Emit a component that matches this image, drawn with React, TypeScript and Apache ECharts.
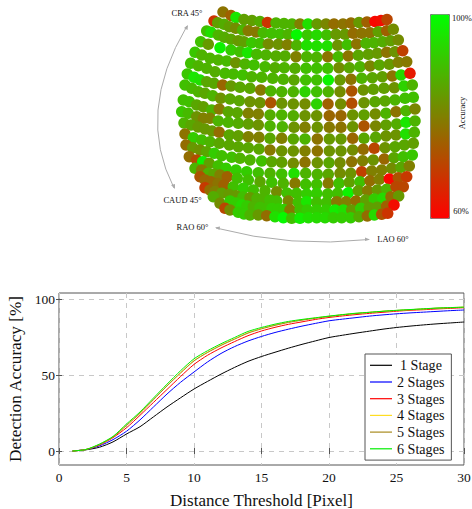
import React, { useEffect, useRef } from "react";
import * as echarts from "echarts";

// Sphere map: each row lists [projected x, projected y, accuracy %]
const row01 = [[223,12,78],[231,15.5,75],[236,17.5,96],[244,19.5,85],[252,20.5,85],[260,21.5,87],[267.5,22.5,68],[276,23,88],[284,23.5,88],[292,24,88],[300,24,80],[308,24,95],[317,24,84],[326,24,81],[334,24,77],[343,24,78],[351,23,77],[359,22.5,84],[367,22,75],[375,21.5,61],[381,20.5,62],[387,19.5,71]];
const row02 = [[214,21,68],[217.7,22.7,85],[224,24.3,87],[229.3,26.7,85],[235.7,28.3,82],[242.7,30,88],[248.3,30.7,79],[256,32,79],[263.3,32.7,89],[271.7,33.3,90],[280,34,90],[288.3,34.3,88],[296.7,34.7,99],[307.3,35,91],[316.7,35,94],[326.7,35,90],[336,34.3,84],[345,34.3,84],[353.3,33.3,77],[361.7,33.3,78],[370,32.7,78],[378.3,31.7,85],[386.7,30.7,75],[393.3,29.3,82]];
const row03 = [[206.7,31,90],[211,32.3,95],[218.3,35,88],[224.3,37.3,87],[231,39.3,86],[238.3,40.7,84],[244,41.7,85],[251.7,42.7,91],[260,43.3,90],[268.3,44,82],[278.3,44.3,83],[287.3,44.7,80],[296.7,45.3,88],[306.7,45.3,95],[316.7,46,95],[327.3,46,95],[337.7,45.3,83],[347.3,44.7,90],[356.7,44,78],[366,43.3,88],[374,42.7,88],[382.7,41.7,87],[390.7,40.7,85],[398.3,40,82]];
const row04 = [[200.7,41.7,90],[208.3,44.3,84],[220,47.7,98],[231,50,92],[240,51.7,90],[247.7,52.7,96],[256.7,54.3,89],[266,55,88],[276,56,87],[285,56,87],[296,56.7,80],[306.7,56.7,88],[316.7,57.3,88],[327.7,56.7,78],[338.3,56.7,89],[348.3,56,78],[358.3,55.3,86],[368.3,54.3,85],[377.3,53.3,84],[386.7,52.3,78],[395,51.7,83],[402.7,50.7,70]];
const row05 = [[195,52.3,91],[201.7,55,88],[210,58.3,88],[218.3,60,88],[226.7,61,89],[235.7,62.7,83],[245,64,88],[254,65,90],[265,66.7,89],[275,67.7,87],[284.3,67.7,88],[295,68.3,87],[306,68.3,90],[316.7,68.3,90],[327.7,68.3,90],[339,67.7,82],[349.3,67.7,86],[360,66.7,88],[370,66,81],[379.3,65,86],[389.3,64.3,84],[398.3,62.3,80],[406.7,61.7,79]];
const row06 = [[190.7,63.3,90],[198.3,65.7,88],[206.7,68.3,88],[215,71.7,87],[225,73.3,89],[233.3,74,89],[242.7,75,90],[251.7,76.7,88],[261.7,77.3,88],[272.7,78.3,88],[283.3,79.3,88],[294,80,86],[305.7,80,90],[316.7,80,90],[328.3,80,98],[340,80,84],[351,79.3,78],[361.7,78.3,88],[372.3,77.7,86],[382.3,76.7,85],[392.3,76,78],[401,75,94],[410,73.3,64]];
const row07 = [[187.3,74,91],[194,77.3,96],[200,80,95],[206.7,81.7,86],[214,83.3,86],[222.7,85,76],[231,86,84],[240,87.3,86],[250,88.3,86],[260.7,90,79],[270.7,91,88],[281.7,91.7,88],[293.3,91.7,88],[305,91.7,93],[316.7,91.7,90],[328.3,91.7,88],[340,91.7,82],[351.7,91,73],[363.3,90,83],[373.3,89.3,85],[384,88.3,85],[394.3,87.7,83],[404,86,93],[412.3,85,88]];
const row08 = [[185,85,90],[191.7,88.3,89],[198.3,91.7,88],[205,93.3,86],[212.7,95.7,88],[220.7,98.3,83],[230,99,86],[239.3,100.7,86],[250,101.7,83],[260,102.7,83],[270.7,102.7,73],[281.7,103.3,83],[293.3,104,83],[305,104,82],[316.7,104,93],[328,104,75],[340.7,104,82],[351.7,103.3,72],[364,102.7,83],[375,101.7,86],[385,101,86],[395,100,88],[405,98.3,90],[413.3,97.3,90]];
const row09 = [[183.3,100,90],[189.3,101.7,90],[196.7,105,86],[203.3,106.7,85],[211.7,110,88],[219.3,109,79],[228.3,111.7,86],[237.3,112.7,86],[248.3,113.3,80],[258.3,114,80],[270,115,87],[281.7,115,88],[293.3,115.7,87],[305,115.7,83],[316.7,115.7,83],[329.3,115.7,76],[341,115.7,76],[352.7,115,83],[364,115,85],[375.3,114,82],[386,113.3,88],[396,111.7,78],[406,110.7,88],[415,109,81]];
const row10 = [[181.7,111.7,91],[188.3,113.3,89],[196.7,116.7,83],[203.3,118.3,80],[210,118.3,80],[218.3,121,88],[228.3,122.3,88],[238.3,123.3,87],[248.3,124,85],[258.3,125,83],[270,126,88],[282.3,126.7,88],[294,127.3,83],[305,127.3,80],[317.3,127.3,83],[329.3,127.3,79],[341,127.3,78],[352.7,126.7,83],[364,126,73],[375.7,126,81],[386,125,85],[396.7,124,87],[406,122.3,96],[415,121,88]];
const row11 = [[184,123,88],[191,125,86],[198,127,84],[205,129,84],[212,131,84],[219.3,132.3,77],[229.3,135,86],[238.3,135.7,85],[248.3,136.7,80],[259,137.3,80],[270,138.3,86],[281.7,138.3,80],[293.3,139,86],[305,139,88],[317.3,139,78],[329.3,139,84],[341,139,84],[352.7,138.3,76],[364,138.3,86],[375.7,137.3,86],[386,136,83],[396,135,83],[405.7,134,95],[414.3,132.3,88]];
const row12 = [[185,134,78],[193.3,137.7,92],[201.7,140,90],[210,141.7,88],[219.3,143.3,86],[229.3,145,86],[238.3,146.7,86],[248.3,147.7,86],[259,149,86],[270,150,79],[281.7,151,83],[293.3,151,83],[305,151,80],[317.3,151,78],[329.3,151,83],[341,151,83],[352.7,150,82],[363.3,149.3,77],[374.3,148.3,71],[385,147.7,83],[395,146.7,86],[404.3,145,86],[413.3,143.3,85]];
const row13 = [[186,145,77],[192.7,147.7,84],[200,150,83],[206.7,151.7,86],[214.3,153.3,92],[221.7,155.7,90],[231.7,157.3,90],[240,158.3,88],[250,160,88],[261.7,161,90],[271.7,161.7,86],[281.7,162.3,85],[293.3,163.3,82],[305,162.3,78],[317.3,162.7,83],[329,162.7,86],[340,162.7,82],[351.7,161.7,78],[362.7,160.7,80],[373.3,160,83],[384.3,159,76],[394,157.7,86],[403.3,156.7,90],[412.3,155,91]];
const row14 = [[189.3,156.7,77],[196.7,160,72],[202.7,161.7,98],[209.3,163.3,85],[218.3,165.7,90],[226,168.3,92],[236,170,92],[246.7,171.7,92],[258.3,172.7,90],[270,173.3,88],[281.7,174,90],[294,173.5,95],[305.7,173.3,88],[317.3,174.3,88],[328.3,174.3,86],[340,173.3,82],[350.7,173.3,83],[361.7,171.7,70],[371.7,171,80],[381.7,170,80],[391.7,168.3,82],[401,167.3,86],[409.3,166,80]];
const row15 = [[195,168.3,88],[201.7,170,79],[208.3,173.3,88],[214,174,86],[220,175,80],[227.3,176.7,75],[237.3,178.3,90],[248.3,180,90],[260,181.7,86],[271.7,182.3,90],[283.3,183.3,88],[295,183.3,79],[305.7,184.3,90],[316.7,184.3,90],[328.3,183.3,79],[339,183.3,90],[349.3,182.3,85],[360,181.7,90],[370,180.7,77],[379.3,179.3,80],[389.3,179,61],[398.3,177.7,73],[406.7,176.7,69]];
const row16 = [[200,176.7,73],[205,180,76],[211,181.7,76],[218,183.5,78],[224,185,75],[233.3,186.7,90],[243.3,188.3,92],[253.3,190,90],[265,190.7,88],[276.7,191.7,82],[287,193,90],[296.7,193.3,90],[306.7,194,92],[316.7,193.3,92],[327.7,194,90],[337.7,193.3,90],[348.3,192.7,98],[358.3,190.7,85],[367.7,190.7,79],[377.3,190,84],[386.7,189.3,88],[396,186.7,71],[403.3,186.7,71]];
const row17 = [[205,187.7,69],[210,190,77],[215,191.5,80],[221.7,193.3,85],[229,194.5,84],[236,195.7,84],[243,197,90],[250,197.7,84],[257,198.5,88],[263.3,199,88],[270,200,90],[276.7,201,90],[288.3,201,81],[298.3,202.3,90],[306.7,201.7,96],[316.7,202.3,90],[326.7,202.3,90],[336.7,201.7,79],[346,201.7,80],[356,201,77],[365.7,200,85],[374.3,199,92],[382.7,198.3,94],[391,196.7,77],[398.7,196,84]];
const row18 = [[213.3,196.7,87],[220,203.3,82],[230,201,92],[236,203,92],[241.7,205,94],[247,206,92],[253.3,206.7,88],[260,207.5,90],[266.7,208.3,90],[272,208.5,92],[278.3,209,92],[284,209.5,92],[290,210,79],[300,210,90],[307.3,210,92],[316.7,210,92],[326,210,92],[335,210,97],[343.3,210,95],[351.7,210,84],[360.7,208.3,92],[369.3,207.7,85],[377.3,207.3,85],[386.7,206,75],[394,205,62]];
const row19 = [[225,208.3,71],[230,210,82],[238.3,212.3,92],[244,214,92],[250,215,88],[258.3,215,84],[266.7,215.7,77],[275,216.7,95],[283.3,217.7,99],[291.7,218.3,90],[300,218.3,97],[308.3,217.7,95],[316.7,217.7,94],[325,217.7,94],[333.3,217.7,92],[341.7,217.7,92],[350.7,217.7,92],[359,216.7,87],[367.3,216,77],[374.3,215,94],[381.7,214.3,73],[387.7,213.3,68]];
const sphereRows = [row01,row02,row03,row04,row05,row06,row07,row08,row09,row10,row11,row12,row13,row14,row15,row16,row17,row18,row19];

// Detection accuracy curves
const thresholds = [1,2,3,4,5,6,7,8,9,10,11,12,13,14,15,16,17,18,19,20,21,22,23,24,25,26,27,28,29,30];
const stage1 = [0,0.8,2.5,6,11.2,16,22.5,29,35,40.8,45.8,50.6,55,59,62.2,65,67.7,70.2,72.5,74.7,76.2,77.6,78.9,80.2,81.3,82.2,83,83.7,84.3,84.9];
const stage2 = [0,1,3.4,7.5,13,20.5,29,37.5,45.2,52,58.6,64.2,68.7,72.4,75.4,78,80.2,82.2,84,85.7,86.8,87.8,88.8,89.6,90.3,90.9,91.4,91.9,92.4,92.8];
const stage3 = [0,1,3.9,8.8,15.3,23.5,32,40.5,49,57,63,67.8,72,75.9,79,81.4,83.4,85,86.6,87.9,88.9,89.8,90.6,91.3,92,92.6,93,93.5,93.9,94.3];
const stage4 = [0,1,4.3,9.3,17,25,34,43,51.5,59.5,65,69.7,73.8,77.8,80.6,82.9,84.8,86.3,87.6,88.7,89.7,90.6,91.3,92,92.5,93,93.5,94,94.4,94.7];
const stage5 = [0,1,4.2,9.2,16.8,24.8,33.8,42.8,51.3,59.3,64.8,69.5,73.6,77.6,80.4,82.7,84.6,86.1,87.4,88.5,89.6,90.4,91.2,91.9,92.5,93,93.5,94,94.3,94.6];
const stage6 = [0,1,4.6,9.6,17.8,25.7,34.9,44,52.8,60.7,66,70.6,74.7,78.7,81.3,83.5,85.3,86.6,87.7,88.8,89.8,90.7,91.3,92,92.6,93.1,93.6,94.1,94.4,94.7];
const stageNames = ["1 Stage","2 Stages","3 Stages","4 Stages","5 Stages","6 Stages"];
const stageValues = [stage1,stage2,stage3,stage4,stage5,stage6];
const stageColors = ["#000000","#0000ff","#ff0000","#ffdd22","#a88a1e","#00ee00"];
const yTicks = [0,50,100];

const SERIF = '"Liberation Serif", serif';
const ARROW = "#ababab";

export default function App() {
  const ref = useRef<HTMLDivElement>(null);
  useEffect(() => {
    const chart = echarts.init(ref.current!, undefined, { renderer: "svg" });
    const smallText = (text: string, x: number, y: number, rotation = 0) => ({
      type: "text", x, y, rotation,
      style: { text, fill: "#111", font: `8.5px ${SERIF}`, textAlign: "center", textVerticalAlign: "middle" },
    });
    chart.setOption({
      animation: false,
      backgroundColor: "#fff",
      textStyle: { fontFamily: SERIF },
      grid: [
        { left: 0, top: 0, width: 472, height: 260, show: false, outerBoundsMode: "none" },
        { left: 59, top: 293, width: 405, height: 172, show: true, borderColor: "#555", borderWidth: 1, outerBoundsMode: "none" },
      ],
      xAxis: [
        { gridIndex: 0, type: "value", min: 0, max: 472, show: false },
        {
          gridIndex: 1, type: "value", min: 0, max: 30, interval: 5,
          name: "Distance Threshold [Pixel]", nameLocation: "middle", nameGap: 26,
          nameTextStyle: { fontFamily: SERIF, fontSize: 17, lineHeight: 18, color: "#111" },
          axisLine: { show: false },
          axisTick: { inside: true, length: 3, lineStyle: { color: "#555" } },
          axisLabel: { fontFamily: SERIF, fontSize: 13.5, color: "#111", margin: 5 },
          splitLine: { show: true, lineStyle: { color: "#c8c8c8", type: [5, 5] } },
        },
        {
          gridIndex: 1, type: "value", min: 0, max: 30, interval: 5, position: "top",
          axisLine: { show: false }, axisLabel: { show: false }, splitLine: { show: false },
          axisTick: { inside: true, length: 3, lineStyle: { color: "#555" } },
        },
      ],
      yAxis: [
        { gridIndex: 0, type: "value", min: 0, max: 260, inverse: true, show: false },
        {
          gridIndex: 1, type: "value", min: -9.2, max: 104,
          name: "Detection Accuracy [%]", nameLocation: "middle", nameGap: 31,
          nameTextStyle: { fontFamily: SERIF, fontSize: 17.2, color: "#111" },
          axisLine: { show: false },
          axisTick: { inside: true, length: 3, customValues: yTicks, lineStyle: { color: "#555" } },
          axisLabel: { fontFamily: SERIF, fontSize: 13.5, color: "#111", margin: 4, customValues: yTicks },
          splitLine: { show: true, lineStyle: { color: "#c8c8c8", type: [5, 5] } },
        },
        {
          gridIndex: 1, type: "value", min: -9.2, max: 104, position: "right",
          axisLine: { show: false }, axisLabel: { show: false }, splitLine: { show: false },
          axisTick: { inside: true, length: 3, customValues: yTicks, lineStyle: { color: "#555" } },
        },
      ],
      visualMap: {
        type: "continuous", seriesIndex: 0, min: 60, max: 100,
        left: 430, top: 14, itemWidth: 19, itemHeight: 204, padding: 0,
        inRange: { color: ["#ff0000", "#00ff00"] },
        borderColor: "#777", borderWidth: 1, calculable: false, hoverLink: false,
        dimension: 2,
      },
      legend: {
        left: 365, top: 354, orient: "vertical", padding: [3.8, 7, 3.8, 5],
        backgroundColor: "#fff", borderColor: "#555", borderWidth: 1, borderRadius: 0,
        itemWidth: 22, itemHeight: 8, itemGap: 1.7, icon: "path://M0,0H22V1.2H0Z",
        data: stageNames.map((name, i) => ({
          name,
          textStyle: {
            fontFamily: SERIF, fontSize: 14.1, color: "#111",
            lineHeight: 15, padding: i === 0 ? [0, 0, 0, 3] : 0,
          },
        })),
      },
      series: [
        {
          type: "scatter", xAxisIndex: 0, yAxisIndex: 0, symbolSize: 11.5,
          data: sphereRows.flat(), itemStyle: { opacity: 1 }, silent: true,
        },
        ...stageNames.map((name, i) => ({
          name, type: "line", xAxisIndex: 1, yAxisIndex: 1, showSymbol: false, symbol: "none",
          smooth: 0.25, z: 3 + i,
          data: thresholds.map((t, k) => [t, stageValues[i][k]]),
          lineStyle: { color: stageColors[i], width: 1 },
          itemStyle: { color: stageColors[i] },
        })),
      ],
      graphic: [
        { type: "bezierCurve", shape: { x1: 187, y1: 26, x2: 174, y2: 188, cpx1: 135.5, cpy1: 113 }, style: { stroke: ARROW, lineWidth: 1, fill: "none" } },
        { type: "polygon", shape: { points: [[188, 25], [184, 28], [187.5, 30]] }, style: { fill: ARROW } },
        { type: "polygon", shape: { points: [[175, 189], [171, 185], [175, 184]] }, style: { fill: ARROW } },
        { type: "bezierCurve", shape: { x1: 216, y1: 228, x2: 369, y2: 239.5, cpx1: 291.5, cpy1: 248 }, style: { stroke: ARROW, lineWidth: 1, fill: "none" } },
        { type: "polygon", shape: { points: [[215, 227.5], [220, 226.5], [219.5, 230]] }, style: { fill: ARROW } },
        { type: "polygon", shape: { points: [[370, 239.5], [365, 237.5], [365, 241]] }, style: { fill: ARROW } },
        smallText("CRA 45°", 187, 13),
        smallText("CAUD 45°", 182.5, 200),
        smallText("RAO 60°", 192.5, 226.5),
        smallText("LAO 60°", 393, 239),
        smallText("100%", 462, 18),
        smallText("60%", 461, 211),
        smallText("Accuracy", 461.5, 113, Math.PI / 2),
      ],
    });
    return () => chart.dispose();
  }, []);
  return <div ref={ref} style={{ position: "absolute", left: 0, top: 0, width: 472, height: 509 }} />;
}
